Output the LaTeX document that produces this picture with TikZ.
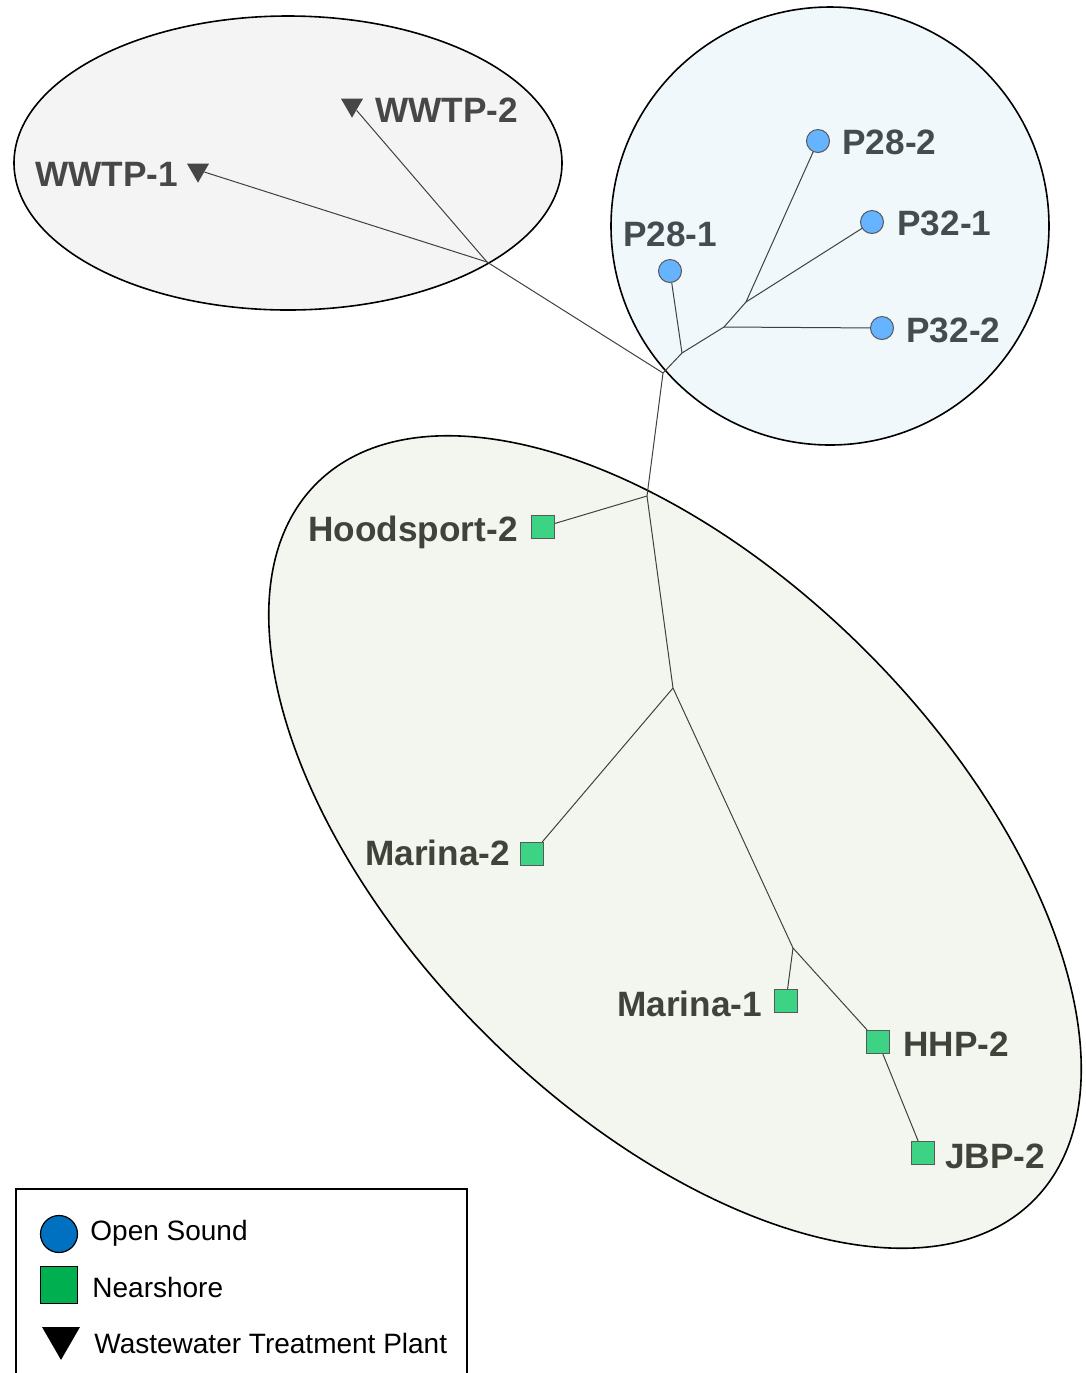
\documentclass[tikz,border=0pt]{standalone}
\usepackage{fontspec}
\setmainfont{Liberation Sans}
\usetikzlibrary{shapes.geometric}
\definecolor{grayfill}{HTML}{F4F4F4}
\definecolor{bluefill}{HTML}{F0F8FB}
\definecolor{greenfill}{HTML}{F3F6EE}
\definecolor{osfill}{HTML}{66B3FF}
\definecolor{nsfill}{HTML}{3DD384}
\definecolor{wwfill}{HTML}{464646}
\definecolor{wwtext}{HTML}{474747}
\definecolor{ostext}{HTML}{454B50}
\definecolor{nstext}{HTML}{40433A}
\definecolor{legblue}{HTML}{0070C0}
\definecolor{leggreen}{HTML}{00B050}
\begin{document}
\begin{tikzpicture}[x=0.5pt,y=-0.5pt,
  group/.style={draw=black,line width=0.8pt},
  osnode/.style={circle,draw=black!65,fill=osfill,minimum size=11.5pt,inner sep=0pt,line width=0.5pt},
  nsnode/.style={rectangle,draw=black!65,fill=nsfill,minimum size=11.5pt,inner sep=0pt,line width=0.6pt},
  wwnode/.style={regular polygon,regular polygon sides=3,shape border rotate=180,fill=wwfill,minimum size=12.7pt,inner sep=0pt},
  branch/.style={draw=black!75,line width=0.5pt},
  lbl/.style={inner sep=0pt,font=\fontsize{17.6}{20}\selectfont\bfseries},
  legtext/.style={inner sep=0pt,anchor=base west,font=\fontsize{14}{16}\selectfont}]
\useasboundingbox (0,0) rectangle (1086,1373);
\clip (0,0) rectangle (1086,1373);
% groups
\draw[group,fill=grayfill] (288,163) ellipse [x radius=274, y radius=147];
\draw[group,fill=bluefill] (830,226) circle [radius=219];
\draw[group,fill=greenfill,rotate around={-45:(675,842)}] (675,842) ellipse [x radius=507, y radius=270];
% leaves
\node[wwnode] (w2) at (352,105) {};
\node[wwnode] (w1) at (198,170) {};
\node[osnode] (p281) at (670,271) {};
\node[osnode] (p282) at (818,141) {};
\node[osnode] (p321) at (872,222) {};
\node[osnode] (p322) at (882,328) {};
\node[nsnode] (hood) at (543,527) {};
\node[nsnode] (mar2) at (532,854) {};
\node[nsnode] (mar1) at (786,1001) {};
\node[nsnode] (hhp) at (878,1042) {};
\node[nsnode] (jbp) at (923,1153) {};
% internal junctions
\coordinate (ja) at (487,262);
\coordinate (jb) at (663,373);
\coordinate (jc) at (682,353);
\coordinate (jd) at (724,327);
\coordinate (je) at (746,302);
\coordinate (jf) at (647,496);
\coordinate (jg) at (673,688);
\coordinate (jh) at (793,948);
% branches
\draw[branch] (w1) -- (ja);
\draw[branch] (w2) -- (ja);
\draw[branch] (ja) -- (jb);
\draw[branch] (jb) -- (jc);
\draw[branch] (jc) -- (p281);
\draw[branch] (jc) -- (jd);
\draw[branch] (jd) -- (p322);
\draw[branch] (jd) -- (je);
\draw[branch] (je) -- (p321);
\draw[branch] (je) -- (p282);
\draw[branch] (jb) -- (jf);
\draw[branch] (jf) -- (hood);
\draw[branch] (jf) -- (jg);
\draw[branch] (jg) -- (mar2);
\draw[branch] (jg) -- (jh);
\draw[branch] (jh) -- (mar1);
\draw[branch] (jh) -- (hhp);
\draw[branch] (hhp) -- (jbp);
% labels
\node[lbl,text=wwtext,anchor=base west] (lw2) at (375,122) {WWTP-2};
\node[lbl,text=wwtext,anchor=base west] (lw1) at (35,186) {WWTP-1};
\node[lbl,text=ostext,anchor=base west] (lp282) at (842,154) {P28-2};
\node[lbl,text=ostext,anchor=base west] (lp321) at (897,235) {P32-1};
\node[lbl,text=ostext,anchor=base] (lp281) at (670,246) {P28-1};
\node[lbl,text=ostext,anchor=base west] (lp322) at (906,342) {P32-2};
\node[lbl,text=nstext,anchor=base west] (lhood) at (308,541) {Hoodsport-2};
\node[lbl,text=nstext,anchor=base west] (lmar2) at (365,865) {Marina-2};
\node[lbl,text=nstext,anchor=base west] (lmar1) at (617,1016) {Marina-1};
\node[lbl,text=nstext,anchor=base west] (lhhp) at (903,1056) {HHP-2};
\node[lbl,text=nstext,anchor=base west] (ljbp) at (945,1168) {JBP-2};
% legend
\draw[line width=0.6pt,fill=white] (16,1189) rectangle (467,1400);
\node[circle,draw=black,fill=legblue,minimum size=18.5pt,inner sep=0pt,line width=0.6pt] (kos) at (59,1234) {};
\node[rectangle,draw=black,fill=leggreen,minimum size=18.5pt,inner sep=0pt,line width=0.6pt] (kns) at (59,1285) {};
\node[regular polygon,regular polygon sides=3,shape border rotate=180,fill=black,minimum size=21.9pt,inner sep=0pt] (kww) at (61,1338) {};
\node[legtext] (tos) at (90,1240) {Open Sound};
\node[legtext] (tns) at (92,1297) {Nearshore};
\node[legtext] (tww) at (94,1353) {Wastewater Treatment Plant};
\end{tikzpicture}
\end{document}
